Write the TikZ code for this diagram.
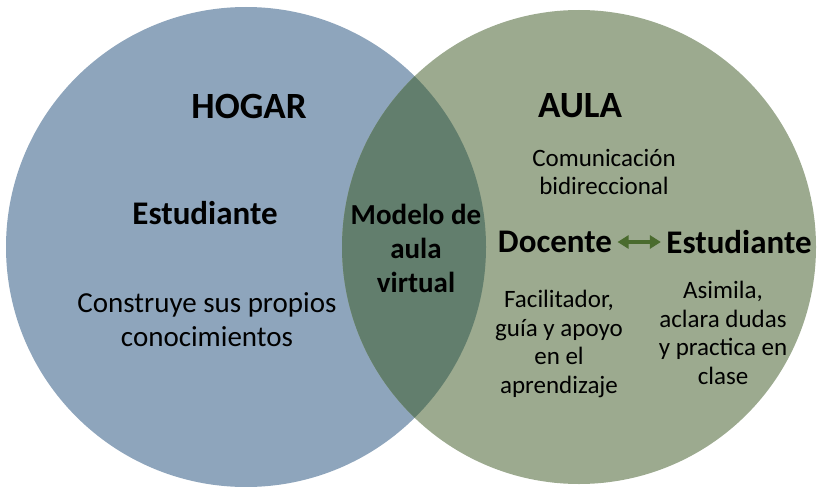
\documentclass[tikz,border=0pt]{standalone}
\usepackage{fontspec}
\setmainfont{Carlito}
\usetikzlibrary{positioning,arrows.meta}

\definecolor{hogarblue}{HTML}{8EA5BC}
\definecolor{aulagreen}{HTML}{9CAA8F}
\definecolor{overlapgreen}{HTML}{627E6D}
\definecolor{arrowgreen}{HTML}{4A6B2E}

\begin{document}
\begin{tikzpicture}[
    x=1pt, y=-1pt,
    % Styles
    setcircle/.style={
        circle, fill=#1, draw=none, minimum size=480pt, inner sep=0pt,
    },
    title/.style={font=\fontsize{37}{44}\selectfont\bfseries},
    role/.style={font=\fontsize{33}{38}\selectfont\bfseries},
    core/.style={font=\fontsize{29}{34}\selectfont\bfseries, align=center},
    body/.style={font=\fontsize{29}{34}\selectfont, align=center},
    note/.style={font=\fontsize{25}{28.5}\selectfont, align=center},
    arr/.style={{Triangle[length=11pt,width=13pt]}-{Triangle[length=11pt,width=13pt]}, line width=3.5pt, #1},
    arr/.default={arrowgreen},
]
\useasboundingbox (0,0) rectangle (817,487);

% ================================================================
% SETS
% ================================================================
\node[setcircle=hogarblue] (hogar) at (246,247) {};
\node[setcircle=aulagreen, minimum size=474pt] (aula) at (579,247) {};

\begin{scope}
    \clip (246,247) circle (240pt);
    \fill[overlapgreen] (579,247) circle (237pt);
\end{scope}

% ================================================================
% HOGAR
% ================================================================
\node[title] (hogartitle) at (249,106) {HOGAR};
\node[role] (estudiantehogar) at (205,213) {Estudiante};
\node[body] (construye) at (207,320) {Construye sus propios\\conocimientos};

% ================================================================
% OVERLAP
% ================================================================
\node[core] (modelo) at (416,248) {Modelo de\\aula\\virtual};

% ================================================================
% AULA
% ================================================================
\node[title] (aulatitle) at (580,106) {AULA};
\node[note] (comunicacion) at (604,172) {Comunicación\\bidireccional};
\node[role] (docente) at (555,242) {Docente};
\node[role] (estudianteaula) at (739,242) {Estudiante};
\node[note] (facilitador) at (559,344) {Facilitador,\\guía y apoyo\\en el\\aprendizaje};
\node[note] (asimila) at (723,333) {Asimila,\\aclara dudas\\y practica en\\clase};

% ================================================================
% ARROWS
% ================================================================
\draw[arr, shorten <=2pt, shorten >=2pt] (docente.east) -- (estudianteaula.west);

\end{tikzpicture}
\end{document}
